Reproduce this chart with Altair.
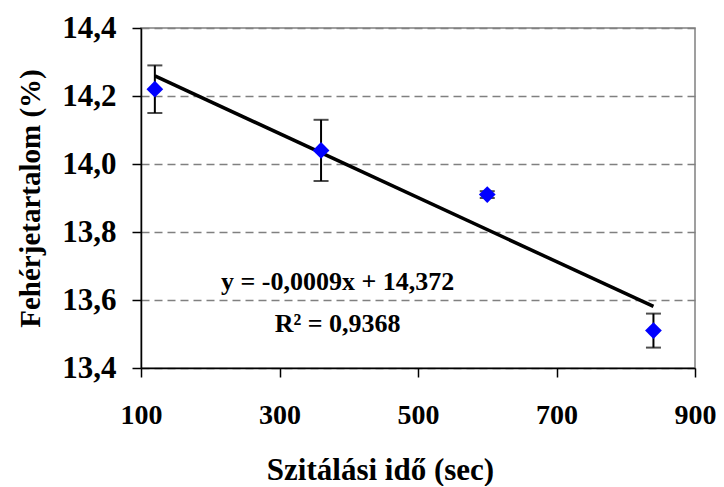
import altair as alt
import pandas as pd

# Data
time_sec = [120, 360, 600, 840]
protein = [14.22, 14.04, 13.91, 13.51]
err = [0.07, 0.09, 0.01, 0.05]

eq_text = ["y = -0,0009x + 14,372", "R² = 0,9368"]
eq_x = [384, 384]
eq_y = [13.629, 13.506]

x_ticks = [100, 300, 500, 700, 900]
y_ticks = [13.4, 13.6, 13.8, 14.0, 14.2, 14.4]

df = pd.DataFrame({"t": time_sec, "p": protein, "e": err})
df_eq = pd.DataFrame({"label": eq_text, "x": eq_x, "y": eq_y})

FONT = "Liberation Serif, Times New Roman, DejaVu Serif, serif"

xscale = alt.Scale(domain=[100, 900], nice=False, zero=False)
yscale = alt.Scale(domain=[13.4, 14.4], nice=False, zero=False)

xaxis = alt.Axis(
    values=x_ticks, title="Szitálási idő (sec)", grid=False,
    labelFont=FONT, labelFontSize=28, labelFontWeight="bold", labelColor="black",
    labelPadding=24, tickSize=9, tickColor="black", tickWidth=1.5,
    labelFlush=False, labelOverlap=False,
    domainColor="black", domainWidth=1.5,
    titleFont=FONT, titleFontSize=31, titleFontWeight="bold", titleColor="black",
    titleX=239, titleY=111, titleBaseline="alphabetic", titleAlign="center",
)
yaxis = alt.Axis(
    values=y_ticks, title="Fehérjetartalom (%)",
    labelExpr="replace(format(datum.value, '.1f'), '.', ',')",
    grid=True, gridColor="#808080", gridDash=[8, 5], gridWidth=1.5,
    labelFont=FONT, labelFontSize=31, labelFontWeight="bold", labelColor="black",
    labelPadding=16, tickSize=9, tickColor="black", tickWidth=1.5,
    labelFlush=False, labelOverlap=False,
    domainColor="black", domainWidth=1.5,
    titleFont=FONT, titleFontSize=29, titleFontWeight="bold", titleColor="black",
    titleX=-102, titleY=170, titleAngle=270, titleBaseline="alphabetic", titleAlign="center",
)

base = alt.Chart(df)

trend = base.transform_regression("t", "p", method="linear").mark_line(
    color="black", strokeWidth=3.5
).encode(
    x=alt.X("t:Q", scale=xscale, axis=xaxis),
    y=alt.Y("p:Q", scale=yscale, axis=yaxis),
)

bars = base.transform_calculate(lo="datum.p - datum.e", hi="datum.p + datum.e").mark_rule(
    color="black", strokeWidth=2
).encode(
    x=alt.X("t:Q", scale=xscale),
    y=alt.Y("lo:Q", scale=yscale),
    y2="hi:Q",
)

caps_lo = base.transform_calculate(lo="datum.p - datum.e").mark_tick(
    color="black", orient="horizontal", size=15, thickness=2
).encode(x=alt.X("t:Q", scale=xscale), y=alt.Y("lo:Q", scale=yscale))

caps_hi = base.transform_calculate(hi="datum.p + datum.e").mark_tick(
    color="black", orient="horizontal", size=15, thickness=2
).encode(x=alt.X("t:Q", scale=xscale), y=alt.Y("hi:Q", scale=yscale))

points = base.mark_point(
    shape="diamond", filled=True, color="#0000FF", size=280, opacity=1
).encode(x=alt.X("t:Q", scale=xscale), y=alt.Y("p:Q", scale=yscale))

eq = alt.Chart(df_eq).mark_text(
    font=FONT, fontSize=26, fontWeight="bold", color="black",
    align="center", baseline="alphabetic"
).encode(
    x=alt.X("x:Q", scale=xscale),
    y=alt.Y("y:Q", scale=yscale),
    text="label:N",
)

chart = alt.layer(trend, bars, caps_lo, caps_hi, points, eq).properties(
    width=554, height=340,
    autosize=alt.AutoSizeParams(type="none"),
    padding={"left": 133, "top": 20, "right": 21, "bottom": 118},
    background="white",
).configure_view(stroke="#808080", strokeWidth=1.5)

chart.save("out.html", embed_options={"renderer": "svg", "actions": False})
